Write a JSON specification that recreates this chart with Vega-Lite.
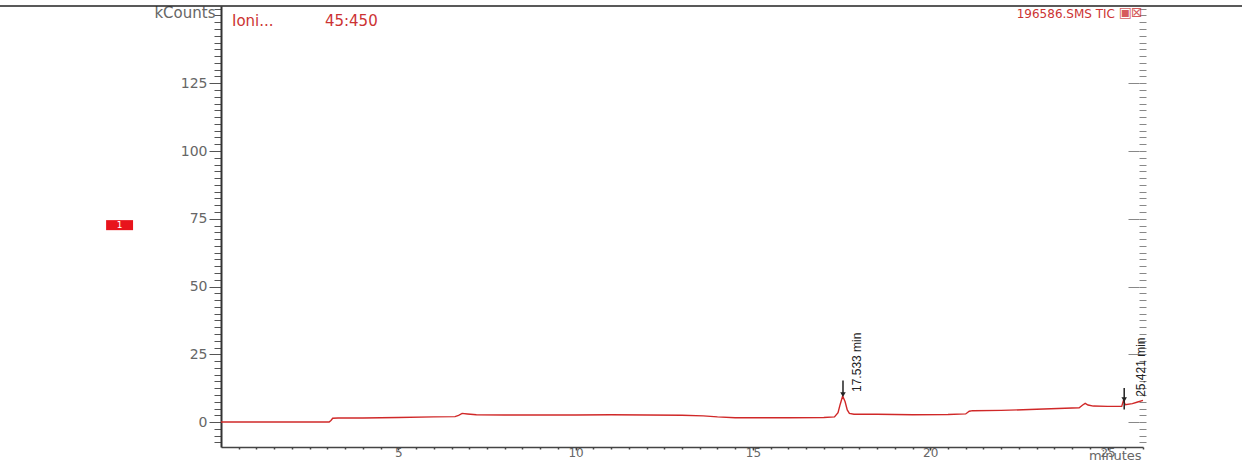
{
  "$schema": "https://vega.github.io/schema/vega-lite/v6.json",
  "width": 922,
  "height": 441,
  "autosize": {"type": "none"},
  "padding": {"left": 221, "top": 6, "right": 99, "bottom": 14},
  "background": "#ffffff",
  "datasets": {
    "trace": [
      {"t": 0, "k": 0}, {"t": 1, "k": 0}, {"t": 2, "k": 0}, {"t": 3.05, "k": 0},
      {"t": 3.1, "k": 0.6}, {"t": 3.15, "k": 1.4}, {"t": 3.3, "k": 1.5}, {"t": 4, "k": 1.5},
      {"t": 5, "k": 1.7}, {"t": 6, "k": 1.9}, {"t": 6.6, "k": 2.0}, {"t": 6.7, "k": 2.5},
      {"t": 6.8, "k": 3.2}, {"t": 6.95, "k": 3.0}, {"t": 7.2, "k": 2.7}, {"t": 8, "k": 2.6},
      {"t": 9, "k": 2.6}, {"t": 10, "k": 2.6}, {"t": 11, "k": 2.7}, {"t": 12, "k": 2.6},
      {"t": 13, "k": 2.5}, {"t": 13.6, "k": 2.3}, {"t": 14, "k": 1.9}, {"t": 14.5, "k": 1.6},
      {"t": 15, "k": 1.6}, {"t": 16, "k": 1.6}, {"t": 17, "k": 1.7}, {"t": 17.3, "k": 1.9},
      {"t": 17.4, "k": 3.5}, {"t": 17.46, "k": 6.5}, {"t": 17.53, "k": 9.6}, {"t": 17.6, "k": 7.5},
      {"t": 17.66, "k": 4.5}, {"t": 17.72, "k": 3.2}, {"t": 17.85, "k": 2.9}, {"t": 18.5, "k": 2.9},
      {"t": 19.5, "k": 2.7}, {"t": 20.5, "k": 2.8}, {"t": 21.0, "k": 3.0}, {"t": 21.1, "k": 4.0},
      {"t": 21.2, "k": 4.2}, {"t": 22, "k": 4.3}, {"t": 23, "k": 4.7}, {"t": 24.2, "k": 5.3},
      {"t": 24.3, "k": 6.3}, {"t": 24.37, "k": 6.9}, {"t": 24.45, "k": 6.3}, {"t": 24.6, "k": 5.9},
      {"t": 25.0, "k": 5.8}, {"t": 25.4, "k": 5.8}, {"t": 25.45, "k": 8.0}, {"t": 25.5, "k": 6.4},
      {"t": 25.7, "k": 6.8}, {"t": 25.85, "k": 7.4}, {"t": 26.0, "k": 8.0}
    ],
    "peaks": [
      {"t": 17.54, "k": 15.3, "k2": 10.6, "tip": 10.1, "label": "17.533 min", "lt": 17.93, "lk": 11.1},
      {"t": 25.47, "k": 12.6, "k2": 4.6, "tip": 8.3, "label": "25.421 min", "lt": 25.93, "lk": 9.3}
    ],
    "border": [{"t": -6.3, "t2": 28.9, "k": 153.5}],
    "marker": [{"t": -3.24, "t2": -2.48, "k": 70.8, "k2": 74.5, "tm": -2.86, "km": 72.6, "label": "1"}],
    "headLeft": [
      {"t": 0.31, "k": 148.0, "label": "Ioni..."},
      {"t": 2.93, "k": 148.0, "label": "45:450"}
    ],
    "headRight": [
      {"t": 25.21, "k": 150.6, "label": "196586.SMS TIC"}
    ],
    "icons": [
      {"t": 25.5, "k": 151.0, "label": "▣"},
      {"t": 25.83, "k": 151.0, "label": "⊠"}
    ]
  },
  "resolve": {"axis": {"x": "independent", "y": "independent"}},
  "layer": [
    {
      "data": {"name": "trace"},
      "mark": {"type": "line", "opacity": 0},
      "encoding": {
        "x": {
          "field": "t", "type": "quantitative",
          "scale": {"domain": [0, 26], "nice": false, "zero": false},
          "axis": {
            "orient": "bottom", "domain": false, "labels": false, "title": null,
            "values": [0.5,1,1.5,2,2.5,3,3.5,4,4.5,5,5.5,6,6.5,7,7.5,8,8.5,9,9.5,10,10.5,11,11.5,12,12.5,13,13.5,14,14.5,15,15.5,16,16.5,17,17.5,18,18.5,19,19.5,20,20.5,21,21.5,22,22.5,23,23.5,24,24.5,25,25.5,26],
            "tickSize": 2, "tickColor": "#444", "tickWidth": 1.5
          }
        },
        "y": {
          "field": "k", "type": "quantitative",
          "scale": {"domain": [-9.2, 153.5], "nice": false, "zero": false},
          "axis": {
            "orient": "left", "domain": false, "labels": false, "title": null,
            "values": [-7.5,-5,-2.5,0,2.5,5,7.5,10,12.5,15,17.5,20,22.5,25,27.5,30,32.5,35,37.5,40,42.5,45,47.5,50,52.5,55,57.5,60,62.5,65,67.5,70,72.5,75,77.5,80,82.5,85,87.5,90,92.5,95,97.5,100,102.5,105,107.5,110,112.5,115,117.5,120,122.5,125,127.5,130,132.5,135,137.5,140,142.5,145,147.5,150,152.5],
            "tickSize": 7, "tickColor": "#555", "tickWidth": 1
          }
        }
      }
    },
    {
      "data": {"name": "trace"},
      "mark": {"type": "line", "opacity": 0},
      "encoding": {
        "x": {"field": "t", "type": "quantitative", "scale": {"domain": [0, 26], "nice": false, "zero": false}, "axis": null},
        "y": {
          "field": "k", "type": "quantitative",
          "scale": {"domain": [-9.2, 153.5], "nice": false, "zero": false},
          "axis": {
            "orient": "right", "domain": false, "labels": false, "title": null, "offset": -4,
            "values": [-7.5,-5,-2.5,0,2.5,5,7.5,10,12.5,15,17.5,20,22.5,25,27.5,30,32.5,35,37.5,40,42.5,45,47.5,50,52.5,55,57.5,60,62.5,65,67.5,70,72.5,75,77.5,80,82.5,85,87.5,90,92.5,95,97.5,100,102.5,105,107.5,110,112.5,115,117.5,120,122.5,125,127.5,130,132.5,135,137.5,140,142.5,145,147.5,150,152.5],
            "tickSize": 7, "tickColor": "#888", "tickWidth": 1
          }
        }
      }
    },
    {
      "data": {"name": "trace"},
      "mark": {"type": "line", "opacity": 0},
      "encoding": {
        "x": {"field": "t", "type": "quantitative", "scale": {"domain": [0, 26], "nice": false, "zero": false}, "axis": null},
        "y": {
          "field": "k", "type": "quantitative",
          "scale": {"domain": [-9.2, 153.5], "nice": false, "zero": false},
          "axis": {
            "orient": "right", "domain": false, "labels": false, "title": null, "offset": -15,
            "values": [0, 25, 50, 75, 100, 125],
            "tickSize": 11, "tickColor": "#888", "tickWidth": 1
          }
        }
      }
    },
    {
      "data": {"name": "trace"},
      "mark": {"type": "line", "color": "#d02828", "strokeWidth": 1.4},
      "encoding": {
        "x": {
          "field": "t", "type": "quantitative",
          "scale": {"domain": [0, 26], "nice": false, "zero": false},
          "axis": {
            "orient": "bottom", "values": [5, 10, 15, 20, 25],
            "domain": true, "domainColor": "#444", "domainWidth": 1.5,
            "tickSize": 3, "tickColor": "#444", "tickWidth": 1.5,
            "labelFont": "DejaVu Sans", "labelFontSize": 12, "labelColor": "#666",
            "labelBaseline": "top", "labelPadding": -3,
            "title": "minutes", "titleFont": "DejaVu Sans", "titleFontSize": 13,
            "titleFontWeight": "normal", "titleColor": "#666",
            "titleAlign": "right", "titleAnchor": "end", "titleX": 920, "titleY": 12,
            "titleBaseline": "alphabetic"
          }
        },
        "y": {
          "field": "k", "type": "quantitative",
          "scale": {"domain": [-9.2, 153.5], "nice": false, "zero": false},
          "axis": {
            "orient": "left", "values": [0, 25, 50, 75, 100, 125],
            "domain": true, "domainColor": "#333", "domainWidth": 2,
            "tickSize": 12, "tickColor": "#555", "tickWidth": 1,
            "labelFont": "DejaVu Sans", "labelFontSize": 14, "labelColor": "#666",
            "labelPadding": 2,
            "title": "kCounts", "titleFont": "DejaVu Sans", "titleFontSize": 15,
            "titleFontWeight": "normal", "titleColor": "#666", "titleAngle": 0,
            "titleAlign": "right", "titleX": -6, "titleY": 6, "titleBaseline": "middle"
          }
        }
      }
    },
    {
      "data": {"name": "border"},
      "mark": {"type": "rule", "color": "#222", "strokeWidth": 1.5},
      "encoding": {
        "x": {"field": "t", "type": "quantitative", "axis": null},
        "x2": {"field": "t2"},
        "y": {"field": "k", "type": "quantitative", "axis": null}
      }
    },
    {
      "data": {"name": "peaks"},
      "mark": {"type": "rule", "color": "#222", "strokeWidth": 1.5},
      "encoding": {
        "x": {"field": "t", "type": "quantitative", "axis": null},
        "y": {"field": "k", "type": "quantitative", "axis": null},
        "y2": {"field": "k2"}
      }
    },
    {
      "data": {"name": "peaks"},
      "mark": {"type": "point", "shape": "triangle-down", "filled": true, "color": "#222", "size": 30, "opacity": 1},
      "encoding": {
        "x": {"field": "t", "type": "quantitative", "axis": null},
        "y": {"field": "tip", "type": "quantitative", "axis": null}
      }
    },
    {
      "data": {"name": "peaks"},
      "mark": {"type": "text", "angle": 270, "align": "left", "baseline": "middle", "font": "Liberation Sans", "fontSize": 12, "color": "#222"},
      "encoding": {
        "x": {"field": "lt", "type": "quantitative", "axis": null},
        "y": {"field": "lk", "type": "quantitative", "axis": null},
        "text": {"field": "label"}
      }
    },
    {
      "data": {"name": "headLeft"},
      "mark": {"type": "text", "align": "left", "baseline": "middle", "font": "DejaVu Sans", "fontSize": 15, "color": "#cc3333"},
      "encoding": {
        "x": {"field": "t", "type": "quantitative", "axis": null},
        "y": {"field": "k", "type": "quantitative", "axis": null},
        "text": {"field": "label"}
      }
    },
    {
      "data": {"name": "headRight"},
      "mark": {"type": "text", "align": "right", "baseline": "middle", "font": "DejaVu Sans", "fontSize": 12, "color": "#cc3333"},
      "encoding": {
        "x": {"field": "t", "type": "quantitative", "axis": null},
        "y": {"field": "k", "type": "quantitative", "axis": null},
        "text": {"field": "label"}
      }
    },
    {
      "data": {"name": "icons"},
      "mark": {"type": "text", "align": "center", "baseline": "middle", "font": "DejaVu Sans", "fontSize": 14, "color": "#cc3333", "opacity": 0.8},
      "encoding": {
        "x": {"field": "t", "type": "quantitative", "axis": null},
        "y": {"field": "k", "type": "quantitative", "axis": null},
        "text": {"field": "label"}
      }
    },
    {
      "data": {"name": "marker"},
      "mark": {"type": "rect", "color": "#e8141c"},
      "encoding": {
        "x": {"field": "t", "type": "quantitative", "axis": null},
        "x2": {"field": "t2"},
        "y": {"field": "k", "type": "quantitative", "axis": null},
        "y2": {"field": "k2"}
      }
    },
    {
      "data": {"name": "marker"},
      "mark": {"type": "text", "align": "center", "baseline": "middle", "font": "DejaVu Sans", "fontSize": 9, "color": "#ffffff"},
      "encoding": {
        "x": {"field": "tm", "type": "quantitative", "axis": null},
        "y": {"field": "km", "type": "quantitative", "axis": null},
        "text": {"field": "label"}
      }
    }
  ],
  "config": {
    "view": {"stroke": null},
    "axis": {"grid": false}
  }
}
